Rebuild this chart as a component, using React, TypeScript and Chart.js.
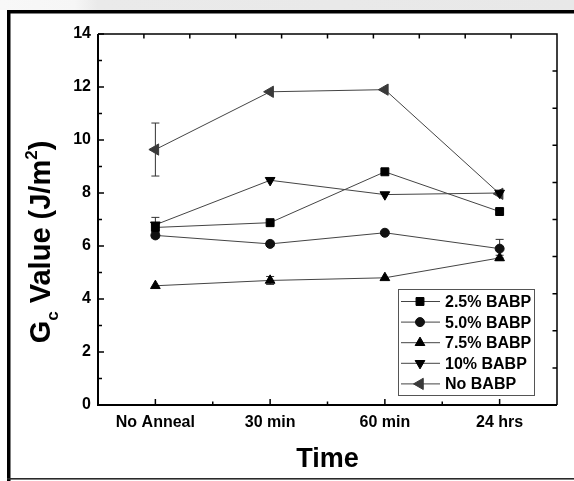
import React, { useEffect, useRef } from 'react';
import { Chart, registerables } from 'chart.js';
import { drawPoint } from 'chart.js/helpers';

Chart.register(...registerables);

const categories = ['No Anneal', '30 min', '60 min', '24 hrs'];
const seriesNames = ['2.5% BABP', '5.0% BABP', '7.5% BABP', '10% BABP', 'No BABP'];
const babp25 = [6.7, 6.88, 8.8, 7.3];
const babp50 = [6.4, 6.08, 6.5, 5.9];
const babp75 = [4.5, 4.7, 4.8, 5.55];
const babp10 = [6.8, 8.48, 7.94, 8.0];
const noBabp = [9.64, 11.82, 11.9, 7.97];
const err25 = [0, 0, 0, 0.1];
const err50 = [0.1, 0.1, 0, 0.35];
const err75 = [0, 0.15, 0, 0.1];
const err10 = [0.28, 0, 0, 0];
const errNo = [1.0, 0, 0, 0];
const yTicks = [0, 2, 4, 6, 8, 10, 12, 14];

const FONT = "'Liberation Sans', Arial, sans-serif";

const styles = [
  { pointStyle: 'rect', rotation: 0, radius: 5.6, color: '#000000' },
  { pointStyle: 'circle', rotation: 0, radius: 4.5, color: '#111111' },
  { pointStyle: 'triangle', rotation: 0, radius: 5.6, color: '#000000' },
  { pointStyle: 'triangle', rotation: 180, radius: 5.6, color: '#000000' },
  { pointStyle: 'triangle', rotation: -90, radius: 6.5, color: '#3a3a3a' },
];
const values = [babp25, babp50, babp75, babp10, noBabp];
const errors = [err25, err50, err75, err10, errNo];

const framePlugin = {
  id: 'framePlugin',
  beforeDraw(chart: any) {
    const ctx = chart.ctx;
    const W = chart.width, H = chart.height;
    ctx.save();
    ctx.fillStyle = '#ffffff';
    ctx.fillRect(0, 0, W, H);
    const g = ctx.createLinearGradient(0, 0, W, 0);
    g.addColorStop(0, '#f8f8f8');
    g.addColorStop(0.13, '#f6f6f6');
    g.addColorStop(0.17, '#eaeaea');
    g.addColorStop(1, '#e8e8e8');
    ctx.fillStyle = g;
    ctx.fillRect(0, 0, W, 10);
    ctx.fillStyle = '#000000';
    ctx.fillRect(7, 10, W - 7, 3.5);
    ctx.fillRect(7, 10, 3.5, H - 10);
    ctx.fillStyle = '#2a2a2a';
    ctx.fillRect(7, 478, W - 7, 1.6);
    ctx.restore();
  },
  beforeDatasetsDraw(chart: any) {
    const ctx = chart.ctx;
    const ys = chart.scales.y;
    ctx.save();
    ctx.strokeStyle = '#333333';
    ctx.lineWidth = 1;
    errors.forEach((errArr, i) => {
      const meta = chart.getDatasetMeta(i);
      errArr.forEach((e, j) => {
        if (!e) return;
        const x = meta.data[j].x;
        const v = values[i][j];
        const y1 = ys.getPixelForValue(v + e);
        const y2 = ys.getPixelForValue(v - e);
        ctx.beginPath();
        ctx.moveTo(x, y1); ctx.lineTo(x, y2);
        ctx.moveTo(x - 4, y1); ctx.lineTo(x + 4, y1);
        ctx.moveTo(x - 4, y2); ctx.lineTo(x + 4, y2);
        ctx.stroke();
      });
    });
    ctx.restore();
  },
  afterDraw(chart: any) {
    const ctx = chart.ctx;
    const a = chart.chartArea;
    const xs = chart.scales.x;
    const ys = chart.scales.y;
    ctx.save();
    // plot box
    ctx.strokeStyle = '#000000';
    ctx.lineWidth = 1.5;
    ctx.beginPath();
    ctx.moveTo(a.left, a.top); ctx.lineTo(a.right, a.top); ctx.lineTo(a.right, a.bottom);
    ctx.stroke();
    ctx.lineWidth = 2;
    ctx.beginPath();
    ctx.moveTo(a.left, a.top); ctx.lineTo(a.left, a.bottom); ctx.lineTo(a.right, a.bottom);
    ctx.stroke();
    // left ticks (inward)
    ctx.lineWidth = 1.5;
    ctx.beginPath();
    for (let v = 0; v <= 14; v += 1) {
      const y = ys.getPixelForValue(v);
      const len = v % 2 === 0 ? 6 : 4;
      ctx.moveTo(a.left, y); ctx.lineTo(a.left + len, y);
    }
    // bottom ticks
    for (let k = 0; k < categories.length; k++) {
      const x = xs.getPixelForValue(k);
      ctx.moveTo(x, a.bottom); ctx.lineTo(x, a.bottom - 6);
      if (k < categories.length - 1) {
        const xm = (x + xs.getPixelForValue(k + 1)) / 2;
        ctx.moveTo(xm, a.bottom); ctx.lineTo(xm, a.bottom - 3.5);
      }
    }
    // top and right ticks (10 divisions)
    for (let i = 1; i < 10; i++) {
      const x = a.left + (a.right - a.left) * i / 10;
      ctx.moveTo(x, a.top); ctx.lineTo(x, a.top + 4.5);
      const y = a.top + (a.bottom - a.top) * i / 10;
      ctx.moveTo(a.right, y); ctx.lineTo(a.right - 4.5, y);
    }
    ctx.stroke();

    // legend
    const lx = 398, ly = 289, lw = 136, lh = 106;
    ctx.fillStyle = '#ffffff';
    ctx.fillRect(lx, ly, lw, lh);
    ctx.strokeStyle = '#555555';
    ctx.lineWidth = 1;
    ctx.strokeRect(lx + 0.5, ly + 0.5, lw, lh);
    ctx.font = `bold 16px ${FONT}`;
    ctx.textBaseline = 'middle';
    ctx.textAlign = 'left';
    seriesNames.forEach((name, i) => {
      const y = ly + 12.5 + i * 20.6;
      ctx.strokeStyle = '#444444';
      ctx.lineWidth = 1;
      ctx.beginPath();
      ctx.moveTo(lx + 3, y); ctx.lineTo(lx + 42, y);
      ctx.stroke();
      const s = styles[i];
      ctx.fillStyle = s.color;
      ctx.strokeStyle = s.color;
      drawPoint(ctx, { pointStyle: s.pointStyle as any, rotation: s.rotation, radius: s.radius, borderWidth: 1 }, lx + 22, y);
      ctx.fillStyle = '#000000';
      ctx.fillText(name, lx + 47, y + 1);
    });

    // x title
    ctx.fillStyle = '#000000';
    ctx.font = `bold 27px ${FONT}`;
    ctx.textAlign = 'center';
    ctx.textBaseline = 'alphabetic';
    ctx.fillText('Time', (a.left + a.right) / 2, 467);

    // y title with sub/superscript
    ctx.translate(40, 242);
    ctx.rotate(-Math.PI / 2);
    const big = `bold 29px ${FONT}`;
    const small = `bold 17px ${FONT}`;
    const segs: [string, string, number][] = [
      ['G', big, 0], ['c', small, 8], [' Value (J/m', big, 0], ['2', small, -13], [')', big, 0],
    ];
    let total = 0;
    segs.forEach(([t, f]) => { ctx.font = f; total += ctx.measureText(t).width; });
    let cx = -total / 2;
    ctx.textAlign = 'left';
    segs.forEach(([t, f, dy]) => {
      ctx.font = f;
      ctx.fillText(t, cx, 10 + dy);
      cx += ctx.measureText(t).width;
    });
    ctx.restore();
  },
};

export default function App() {
  const ref = useRef<HTMLCanvasElement | null>(null);
  useEffect(() => {
    if (!ref.current) return;
    const chart = new Chart(ref.current, {
      type: 'line',
      data: {
        labels: categories,
        datasets: values.map((vals, i) => ({
          label: seriesNames[i],
          data: vals,
          borderColor: '#444444',
          borderWidth: 1,
          pointStyle: styles[i].pointStyle as any,
          rotation: styles[i].rotation,
          pointRadius: styles[i].radius,
          pointBackgroundColor: styles[i].color,
          pointBorderColor: styles[i].color,
          pointBorderWidth: 1,
          fill: false,
          tension: 0,
        })),
      },
      options: {
        animation: false,
        responsive: false,
        devicePixelRatio: 1,
        layout: { padding: { left: 0, right: 17, top: 34, bottom: 46 } },
        plugins: { legend: { display: false }, tooltip: { enabled: false } },
        scales: {
          x: {
            type: 'category',
            offset: true,
            grid: { display: false, drawTicks: false },
            border: { display: false },
            ticks: { color: '#000000', font: { family: FONT, size: 16, weight: 'bold' }, padding: 8, maxRotation: 0 },
            afterFit: (s: any) => { s.height = 30; },
          },
          y: {
            type: 'linear',
            min: 0,
            max: 14,
            afterBuildTicks: (s: any) => { s.ticks = yTicks.map((v) => ({ value: v })); },
            grid: { display: false, drawTicks: false },
            border: { display: false },
            ticks: { color: '#000000', font: { family: FONT, size: 16, weight: 'bold' }, padding: 7 },
            afterFit: (s: any) => { s.width = 98; },
          },
        },
      },
      plugins: [framePlugin],
    });
    return () => chart.destroy();
  }, []);
  return (
    <div style={{ position: 'absolute', left: 0, top: 0, width: 574, height: 481 }}>
      <canvas ref={ref} width={574} height={481} style={{ width: 574, height: 481, display: 'block' }} />
    </div>
  );
}
